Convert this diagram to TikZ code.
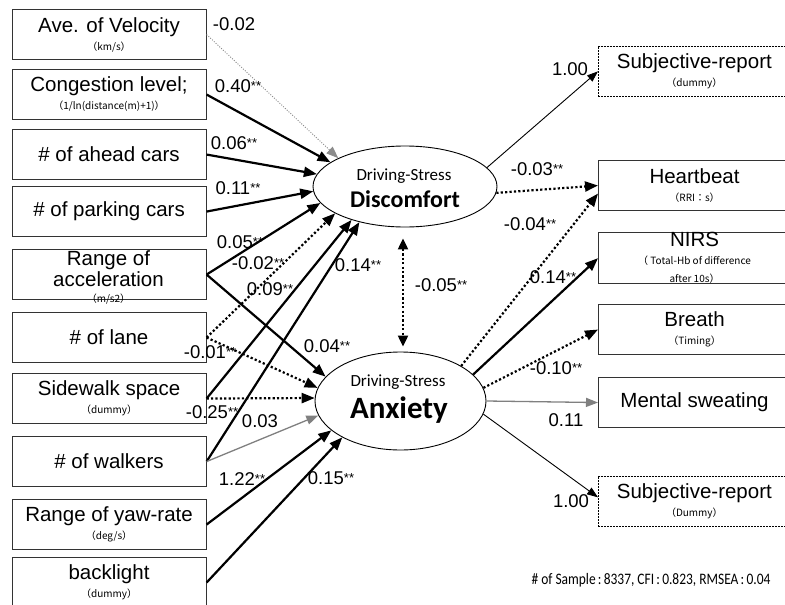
\documentclass[tikz,border=0pt]{standalone}
\usepackage{fontspec}
\setmainfont{Liberation Sans}
\newfontfamily\carl{Carlito}
\newfontfamily\cjk{Noto Sans CJK JP}
\usetikzlibrary{arrows.meta,shapes.geometric}
\newcommand{\subt}[1]{{\cjk\fontsize{10}{10}\selectfont #1}}
\newcommand{\sg}{\raisebox{2pt}{\fontsize{13}{13}\selectfont **}}
\begin{document}
\begin{tikzpicture}[x=1pt,y=-1pt,
  lbox/.style={draw=black!80, line width=1.1pt, minimum width=194pt, minimum height=50pt,
    inner sep=0pt, align=center, anchor=north west, font=\fontsize{20.5}{18}\selectfont},
  rbox/.style={lbox, minimum width=192pt},
  dbox/.style={rbox, draw=black, line width=0.7pt, dash pattern=on 2pt off 1pt},
  btxt/.style={align=center, inner sep=0pt, font=\fontsize{20.5}{21}\selectfont},
  lv/.style={draw, ellipse, line width=0.9pt, inner sep=0pt},
  lvs/.style={inner sep=0pt, font=\carl\fontsize{17}{18}\selectfont},
  lvb/.style={inner sep=0pt, font=\carl\bfseries\fontsize{#1}{#1}\selectfont},
  lab/.style={inner sep=0pt, font=\fontsize{18.5}{19}\selectfont},
  thk/.style={line width=2.2pt, -{Triangle[length=13pt,width=10pt]}},
  thn/.style={line width=0.9pt, -{Triangle[length=11pt,width=8pt]}},
  dotk/.style={line width=2.2pt, dash pattern=on 2.2pt off 2.2pt, -{Triangle[length=13pt,width=10pt]}},
  gry/.style={line width=1.3pt, draw=black!50, -{Triangle[length=12pt,width=9pt,fill=black!50]}},
  gdot/.style={line width=0.9pt, draw=black!45, dash pattern=on 1pt off 1.5pt, -{Triangle[length=12pt,width=9pt,fill=black!45]}}
]
\useasboundingbox (0,0) rectangle (785,605);
\fill[white] (0,0) rectangle (785,605);
\clip (0,0) rectangle (785,605);

% left boxes
\node[lbox] (vel) at (11.5,9) {Ave. of Velocity\\\subt{（km/s）}};
\node[lbox] (cong) at (11.5,69) {Congestion level;\\\subt{（1/ln(distance(m)+1)）}};
\node[lbox] (ahead) at (11.5,129) {\# of ahead cars};
\node[lbox] (park) at (11.5,186) {\# of parking cars};
\node[lbox] (acc) at (11.5,249) {};
\node[btxt] (acct) at (108.5,277) {Range of\\acceleration\\[-5pt]\subt{（m/s2）}};
\node[lbox] (lane) at (11.5,312) {\# of lane};
\node[lbox] (side) at (11.5,373) {Sidewalk space\\\subt{（dummy）}};
\node[lbox] (walk) at (11.5,436) {\# of walkers};
\node[lbox] (yaw) at (11.5,499) {Range of yaw-rate\\\subt{（deg/s）}};
\node[lbox] (back) at (11.5,557) {backlight\\\subt{（dummy）}};

% right boxes
\node[dbox] (subj1) at (598,46) {Subjective-report\\\subt{（dummy）}};
\node[rbox] (hb) at (598,160) {Heartbeat\\\subt{（RRI：s）}};
\node[rbox] (nirs) at (598,232) {NIRS\\\subt{（ Total-Hb of difference}\\\subt{after 10s）}};
\node[rbox] (breath) at (598,304) {Breath\\\subt{（Timing）}};
\node[rbox] (ment) at (598,377) {Mental sweating};
\node[dbox] (subj2) at (598,476) {Subjective-report\\\subt{（Dummy）}};

% latent variables
\node[lv, minimum width=184pt, minimum height=81pt] (disc) at (405,186.5) {};
\node[lvs] (disc1) at (404,176) {Driving-Stress};
\node[lvb=24] (disc2) at (405,199) {Discomfort};
\node[lv, minimum width=171pt, minimum height=98pt] (anx) at (400.5,401) {};
\node[lvs] (anx1) at (398,382) {Driving-Stress};
\node[lvb=31] (anx2) at (399,410) {Anxiety};

% paths into Discomfort
\draw[gdot] (vel.east) -- (disc.157);
\draw[thk] (cong.east) -- (disc.162);
\draw[thk] (ahead.east) -- (disc.172);
\draw[thk] (park.east) -- (disc.183);
\draw[thk] (acc.east) -- (disc.191);
\draw[dotk] (lane.east) -- (disc.201);
\draw[thk] (side.east) -- (disc.212);
\draw[thk] (walk.east) -- (disc.218);

% paths into Anxiety
\draw[thk] (acc.east) -- (anx.162);
\draw[dotk] (lane.east) -- (anx.171);
\draw[dotk] (side.east) -- (anx.178);
\draw[gry] (walk.east) -- (anx.190);
\draw[thk] (yaw.east) -- (anx.203);
\draw[thk] (back.east) -- (anx.212);

% covariance
\draw[line width=2.2pt, dash pattern=on 2.2pt off 2.2pt,
  {Triangle[length=11pt,width=10pt]}-{Triangle[length=11pt,width=10pt]},
  shorten <=11pt, shorten >=5pt] ([xshift=-2pt]disc.south) -- ([xshift=2.5pt]anx.north);

% outgoing
\draw[thn] (disc.13) -- (subj1.west);
\draw[dotk] (disc.356) -- (hb.west);
\draw[dotk] (anx.30) -- ([yshift=-8pt]hb.west);
\draw[thk] (anx.20) -- (nirs.west);
\draw[dotk] (anx.9) -- (breath.west);
\draw[gry] (anx.east) -- (ment.west);
\draw[thn] (anx.351) -- ([yshift=4pt]subj2.west);

% coefficient labels
\node[lab] (c1) at (234,24) {-0.02};
\node[lab] (c2) at (238,86) {0.40\sg};
\node[lab] (c3) at (234,143) {0.06\sg};
\node[lab] (c4) at (238,188) {0.11\sg};
\node[lab] (c5) at (240,242) {0.05\sg};
\node[lab] (c6) at (258,263) {-0.02\sg};
\node[lab] (c7) at (270,289) {0.09\sg};
\node[lab] (c8) at (210,352) {-0.01\sg};
\node[lab] (c9) at (327,346) {0.04\sg};
\node[lab] (c10) at (212,412) {-0.25\sg};
\node[lab] (c11) at (260,421) {0.03};
\node[lab] (c12) at (242,479) {1.22\sg};
\node[lab] (c13) at (331,478) {0.15\sg};
\node[lab] (c14) at (358,265) {0.14\sg};
\node[lab] (c15) at (441,285) {-0.05\sg};
\node[lab] (c16) at (570,69) {1.00};
\node[lab] (c17) at (537,169) {-0.03\sg};
\node[lab] (c18) at (530,224) {-0.04\sg};
\node[lab] (c19) at (553,277) {0.14\sg};
\node[lab] (c20) at (556,368) {-0.10\sg};
\node[lab] (c21) at (566,420) {0.11};
\node[lab] (c22) at (571,501) {1.00};

% fit statistics
\node[inner sep=0pt, font=\carl\fontsize{16}{18}\selectfont] (fit) at (651,580)
  {\scalebox{0.84}[1]{\# of Sample\,:\,8337,\ CFI\,:\,0.823,\ RMSEA\,:\,0.04}};
\end{tikzpicture}
\end{document}
